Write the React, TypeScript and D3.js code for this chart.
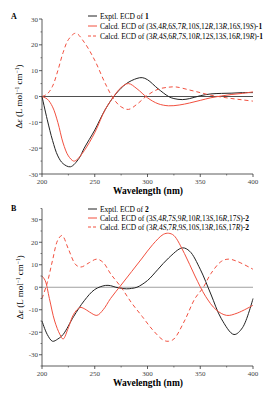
import React from "react";
import * as d3 from "d3";

const xTicks = [200, 250, 300, 350, 400];
const yTicksA = [-30, -20, -10, 0, 10, 20, 30];
const yTicksB = [-30, -20, -10, 0, 10, 20, 30];

const exptA: [number, number][] = [[200,0],[205,-9],[210,-17],[215,-23],[220,-26],[227,-27.2],[235,-24],[240,-20],[250,-13],[260,-5],[270,1],[280,5],[290,7],[295,7.3],[300,6.5],[310,3],[320,0],[325,-0.8],[333,-1.2],[340,-0.8],[350,0.3],[360,1],[370,1.2],[380,1.3],[390,1.5],[400,1.5]];
const calcA1: [number, number][] = [[200,0],[205,-1],[210,-4],[215,-10],[220,-18],[225,-23],[230,-25],[233,-24.5],[240,-21],[250,-14],[260,-5],[268,0],[275,3.5],[282,5],[290,3],[300,-0.5],[310,-2.8],[320,-3.6],[330,-3.3],[340,-2.5],[350,-1.5],[360,-0.5],[370,0.2],[380,0.8],[390,1.2],[400,1.8]];
const calcA2: [number, number][] = [[200,0],[205,1],[210,4],[215,10],[220,17],[225,22],[232,24.5],[240,21],[250,14],[260,5],[268,-1],[275,-4],[282,-5],[290,-3],[300,0.5],[310,2.8],[320,3.6],[327,3.7],[340,2.5],[350,1.5],[360,0.5],[370,-0.2],[380,-0.8],[390,-1.3],[400,-1.8]];

const exptB: [number, number][] = [[200,-15],[205,-21],[210,-24],[215,-23],[220,-21],[230,-13],[240,-6],[250,-1],[260,0.8],[265,0.7],[270,0],[280,-0.7],[285,-0.5],[290,0],[300,3],[310,8],[320,13],[333,17.5],[340,16],[350,8],[360,-3],[370,-14],[382,-21],[390,-18],[400,-5]];
const calcB1: [number, number][] = [[200,5],[203,3],[207,-5],[212,-15],[217,-21],[220,-23],[225,-18],[230,-12],[236,-9],[240,-9.5],[245,-11],[252,-12.5],[258,-10],[265,-5],[275,1],[285,7],[295,13],[305,19],[315,23.5],[320,24],[325,23],[335,15],[345,5],[355,-4],[365,-10],[375,-12.5],[385,-11.5],[400,-8]];
const calcB2: [number, number][] = [[200,-5],[205,2],[210,12],[215,21],[219,23],[225,17],[232,10],[237,9],[245,11],[252,12.5],[258,11],[265,6],[275,0],[285,-7],[295,-13],[305,-19],[315,-23.5],[320,-24],[325,-23],[335,-15],[345,-5],[353,0],[360,6],[370,11.5],[377,12.5],[385,11.5],[400,8]];

const RED = "#f2503f";
const FONT = "'Liberation Serif', 'Times New Roman', serif";

type LegendItem = { dash: boolean; color: string; parts: [string, boolean, boolean][] };

const cfgParts = (cfg: string, suffix: string): [string, boolean, boolean][] => {
  const out: [string, boolean, boolean][] = [["Calcd. ECD of (", false, false]];
  const items = cfg.split(",");
  items.forEach((it, i) => {
    out.push([it.slice(0, -1), false, false]);
    out.push([it.slice(-1), true, false]);
    if (i < items.length - 1) out.push([",", false, false]);
  });
  out.push([")-", false, false]);
  out.push([suffix, false, true]);
  return out;
};

const legendA: LegendItem[] = [
  { dash: false, color: "#222", parts: [["Exptl. ECD of ", false, false], ["1", false, true]] },
  { dash: false, color: RED, parts: cfgParts("3S,4R,6S,7R,10S,12R,13R,16S,19S", "1") },
  { dash: true, color: RED, parts: cfgParts("3R,4S,6R,7S,10R,12S,13S,16R,19R", "1") },
];
const legendB: LegendItem[] = [
  { dash: false, color: "#222", parts: [["Exptl. ECD of ", false, false], ["2", false, true]] },
  { dash: false, color: RED, parts: cfgParts("3S,4R,7S,9R,10R,13S,16R,17S", "2") },
  { dash: true, color: RED, parts: cfgParts("3R,4S,7R,9S,10S,13R,16S,17R", "2") },
];

function Panel({ top, bottom, yDomain, yTicks, series, legend, legendY, legendDy, label, labelY, zeroColor, legendFont, yLabelX }: any) {
  const x = d3.scaleLinear().domain([200, 400]).range([42, 253]);
  const y = d3.scaleLinear().domain(yDomain).range([bottom, top]);
  const line = d3.line<[number, number]>().x(d => x(d[0])).y(d => y(d[1])).curve(d3.curveCatmullRom.alpha(0.5));
  const minorX = d3.range(225, 400, 50);
  const minorY = d3.range(yDomain[0], yDomain[1] + 0.01, 5).filter((v: number) => v % 10 !== 0);
  return (
    <g fontFamily={FONT}>
      <text x={11} y={labelY} fontSize={8} fontWeight="bold">{label}</text>
      <line x1={x(200)} x2={x(400)} y1={y(0)} y2={y(0)} stroke={zeroColor} strokeWidth={0.8} />
      {series.map((s: any, i: number) => (
        <path key={i} d={line(s.data) || ""} fill="none" stroke={s.color} strokeWidth={1} strokeDasharray={s.dash ? "4,3" : undefined} />
      ))}
      <line x1={x(200)} x2={x(200)} y1={y(yDomain[0])} y2={y(yDomain[1])} stroke="#333" strokeWidth={0.8} />
      <line x1={x(200)} x2={x(400)} y1={bottom} y2={bottom} stroke="#333" strokeWidth={0.8} />
      {yTicks.map((t: number) => (
        <g key={t}>
          <line x1={x(200) - 3} x2={x(200)} y1={y(t)} y2={y(t)} stroke="#333" strokeWidth={0.8} />
          <text x={x(200) - 4} y={y(t) + 2.5} fontSize={7} textAnchor="end" fill="#444">{t}</text>
        </g>
      ))}
      {minorY.map((t: number) => (
        <line key={"m" + t} x1={x(200) - 1.5} x2={x(200)} y1={y(t)} y2={y(t)} stroke="#333" strokeWidth={0.6} />
      ))}
      {xTicks.map((t: number) => (
        <g key={t}>
          <line x1={x(t)} x2={x(t)} y1={bottom} y2={bottom + 3} stroke="#333" strokeWidth={0.8} />
          <text x={x(t)} y={bottom + 10} fontSize={7} textAnchor="middle" fill="#444">{t}</text>
        </g>
      ))}
      {minorX.map((t: number) => (
        <line key={"mx" + t} x1={x(t)} x2={x(t)} y1={bottom} y2={bottom + 1.5} stroke="#333" strokeWidth={0.6} />
      ))}
      <text x={148} y={bottom + 20} fontSize={9.5} fontWeight="bold" textAnchor="middle">Wavelength (nm)</text>
      <text transform={`translate(${yLabelX},${(top + bottom) / 2}) rotate(-90)`} fontSize={9} textAnchor="middle">
        Δ<tspan fontStyle="italic">ε</tspan> (L mol<tspan dy={-3} fontSize={5.5}>−1</tspan><tspan dy={3}> cm</tspan><tspan dy={-3} fontSize={5.5}>−1</tspan><tspan dy={3}>)</tspan>
      </text>
      {legend.map((it: LegendItem, i: number) => (
        <g key={i}>
          <line x1={88} x2={97} y1={legendY + i * legendDy} y2={legendY + i * legendDy} stroke={it.color} strokeWidth={1} strokeDasharray={it.dash ? "3,2" : undefined} />
          <text x={100} y={legendY + i * legendDy + 2.5} fontSize={legendFont}>
            {it.parts.map((p, j) => (
              <tspan key={j} fontStyle={p[1] ? "italic" : undefined} fontWeight={p[2] ? "bold" : undefined}>{p[0]}</tspan>
            ))}
          </text>
        </g>
      ))}
    </g>
  );
}

export default function App() {
  return (
    <svg width={277} height={396} style={{ position: "absolute", left: 0, top: 0, background: "#fff" }}>
      <Panel top={19} bottom={174} yDomain={[-30, 30]} yTicks={yTicksA} label="A" labelY={19} zeroColor="#222" yLabelX={22}
        series={[{ data: exptA, color: "#222" }, { data: calcA1, color: RED }, { data: calcA2, color: RED, dash: true }]}
        legend={legendA} legendY={16} legendDy={10} legendFont={7.5} />
      <Panel top={208.5} bottom={366} yDomain={[-35, 35]} yTicks={yTicksB} label="B" labelY={211} zeroColor="#888" yLabelX={23}
        series={[{ data: exptB, color: "#222" }, { data: calcB1, color: RED }, { data: calcB2, color: RED, dash: true }]}
        legend={legendB} legendY={209} legendDy={9} legendFont={7.5} />
    </svg>
  );
}
